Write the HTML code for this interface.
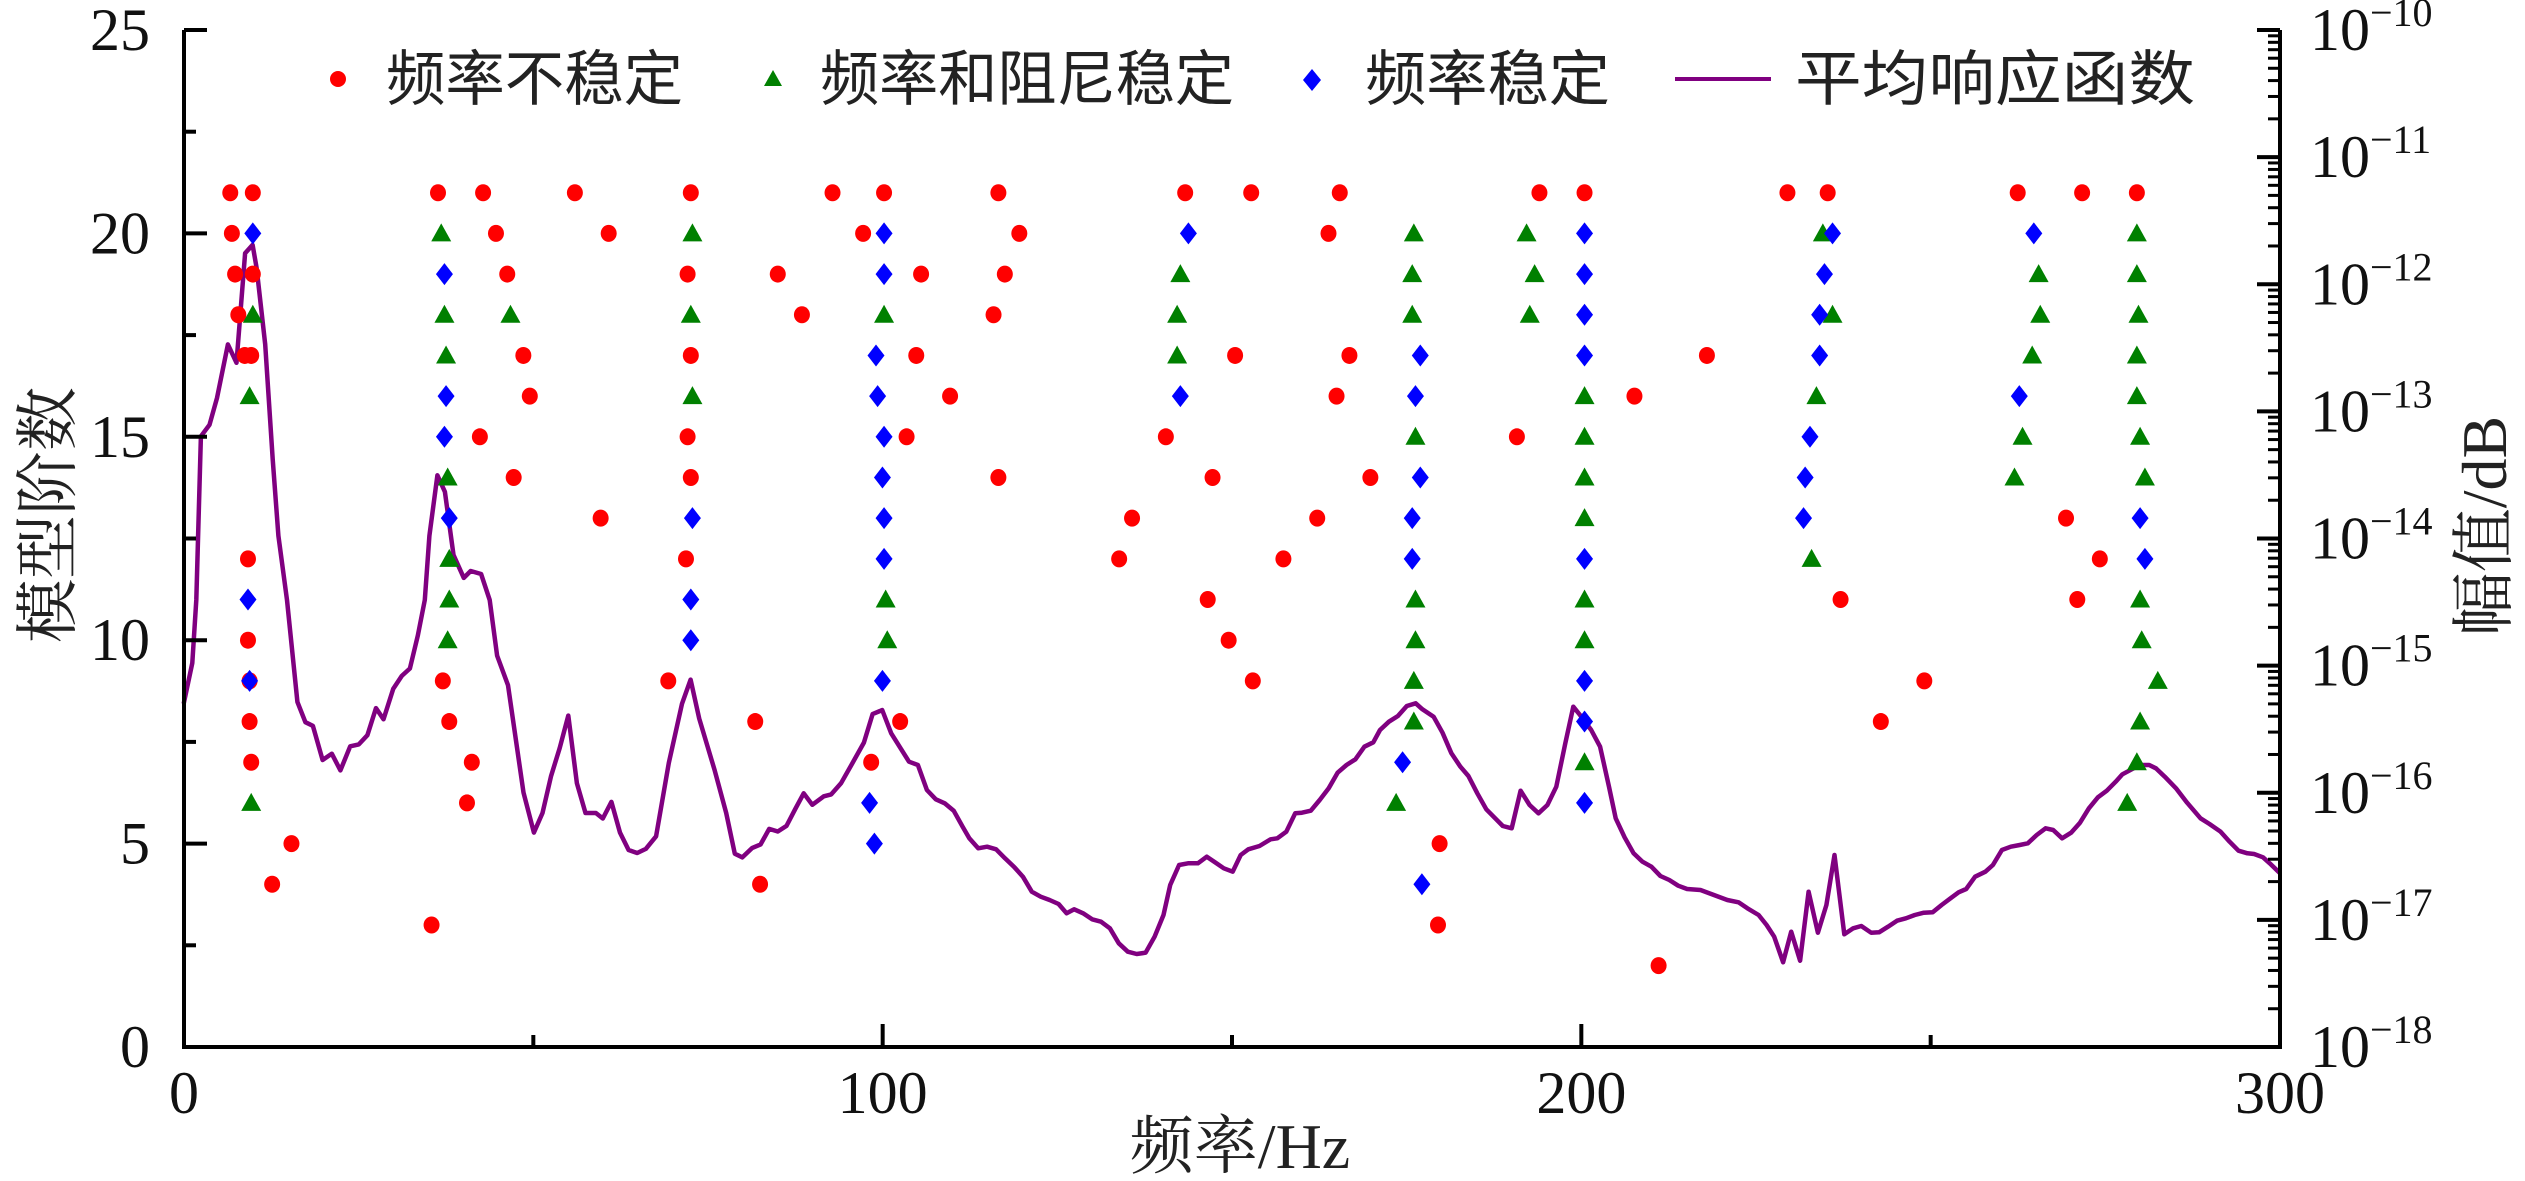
<!DOCTYPE html>
<html><head><meta charset="utf-8"><style>html,body{margin:0;padding:0;background:#fff}svg{display:block}</style></head>
<body>
<svg id="s" width="2525" height="1181" viewBox="0 0 2525 1181" xmlns="http://www.w3.org/2000/svg">
<rect width="2525" height="1181" fill="#fff"/>
<g id="curve"></g>
<g id="marks"></g>
<g id="axes" stroke="#000" stroke-width="4" fill="none"></g>
<g id="txt" font-family="Liberation Serif, serif" fill="#111"></g>
<g font-family="Liberation Sans, 'Noto Sans CJK SC', sans-serif" font-size="60" fill="#222">
<circle cx="338" cy="79" r="8" fill="#f00"/>
<text x="386" y="100" textLength="297" lengthAdjust="spacingAndGlyphs">频率不稳定</text>
<polygon points="773,70 764,86 782,86" fill="#008000"/>
<text x="820" y="100" textLength="414" lengthAdjust="spacingAndGlyphs">频率和阻尼稳定</text>
<polygon points="1312,69 1321,80 1312,91 1303,80" fill="#00f"/>
<text x="1365" y="100" textLength="245" lengthAdjust="spacingAndGlyphs">频率稳定</text>
<line x1="1675" y1="79" x2="1771" y2="79" stroke="#800080" stroke-width="4"/>
<text x="1795" y="100" textLength="400" lengthAdjust="spacingAndGlyphs">平均响应函数</text>
</g>
<g font-family="Liberation Serif, 'Noto Serif CJK SC', 'Noto Sans CJK SC', serif" font-size="64" fill="#222">
<text x="1240" y="1168" text-anchor="middle">频率/Hz</text>
<text transform="translate(70,515) rotate(-90)" text-anchor="middle">模型阶数</text>
<text transform="translate(2506,526) rotate(-90)" text-anchor="middle">幅值/dB</text>
</g>
</svg>
<script>
const NS="http://www.w3.org/2000/svg";
function el(p,t,a,txt){const e=document.createElementNS(NS,t);for(const k in a)e.setAttribute(k,a[k]);if(txt!==undefined)e.textContent=txt;p.appendChild(e);return e;}
const X0=184,X1=2280,Y0=1047,YT=30;
const px=h=>X0+(X1-X0)*h/300, py=o=>Y0-(Y0-YT)*o/25;
const ax=document.getElementById('axes');
el(ax,'path',{d:`M${X0},${YT} V${Y0} H${X1} V${YT}`});
for(let o=0;o<=25;o+=2.5){const maj=o%5===0;el(ax,'line',{x1:X0,y1:py(o),x2:X0+(maj?23:12),y2:py(o)});}
for(let h=50;h<300;h+=50){const maj=h%100===0;el(ax,'line',{x1:px(h),y1:Y0,x2:px(h),y2:Y0-(maj?23:12)});}
const dec=(Y0-YT)/8;
for(let d=0;d<=8;d++){const y=Y0-d*dec;el(ax,'line',{x1:X1,y1:y,x2:X1-23,y2:y});
 if(d<8)for(let m=2;m<=9;m++){const yy=y-Math.log10(m)*dec;el(ax,'line',{x1:X1,y1:yy,x2:X1-12,y2:yy,'stroke-width':3});}}
const tx=document.getElementById('txt');
for(let o=0;o<=25;o+=5)el(tx,'text',{x:150,y:py(o)+20,'text-anchor':'end','font-size':60},String(o));
for(let h=0;h<=300;h+=100)el(tx,'text',{x:px(h),y:1113,'text-anchor':'middle','font-size':60},String(h));
for(let d=0;d<=8;d++){const y=Y0-d*dec;const t=el(tx,'text',{x:2310,y:y+20,'font-size':60},'10');
 el(t,'tspan',{dy:-24,'font-size':40},'\u2212'+String(18-d));}
function cv(arr,ox,oy,sx,sy){const r=[];for(let i=0;i<arr.length;i+=2)r.push([ox+arr[i]/sx,oy+arr[i+1]/sy]);return r;}
let pts=[[183.7,703.7],[192.3,663],[196.3,600],[200.9,436.3],[209.5,424.8],[217,398],[227.9,344.4],[236.5,362.8],[245.1,253.3],[252.6,244.9],[256.6,267.9],[265.2,344.4],[272.7,459.2],[278.4,535.8],[287,600],[297.4,701.9],[305.4,722.2],[312.9,725.9],[322.6,760],[331.8,753.7],[340.4,770.4],[350.2,746.3],[358.8,744.4],[367.4,735.2],[376,708.1],[383.5,719.3],[393.2,688.9],[401.8,675.9],[409.9,668.5],[417.9,635.2],[424.8,600],[429.4,535.8],[437.4,475.3],[444.9,491.8],[453.5,554.9],[463.8,577.9],[470.7,571],[481.1,574],[489.7,600],[497.1,655.6],[508,685.2],[523.5,792.6],[533.9,832.6],[542.5,813],[551.1,775.9],[559.7,748.1],[568.3,715.6],[576.9,783.3],[585.5,813],[595.9,813],[602.8,818.5],[611.4,801.9],[620,832.6],[628.6,850],[637.2,853],[645.8,848.9],[656.1,836.3],[668.8,763],[682,703.7],[690.6,679.6],[699.2,718.5],[714.7,770.4],[726.2,813],[734.8,853.7],[742.3,857.4],[752,848.1],[760.6,844.4],[769.2,828.9],[777.8,831.5],[786.5,825.9],[795.1,809.3],[803.7,793.3],[812.3,804.8],[823.8,796.3],[831.2,794.4],[841,783.3],[852.5,763],[863.9,742.6],[872.6,714.1],[880,711]];
pts=pts.concat(cv([5,330,25,400,65,485,85,495,105,570,125,598,145,610,165,632,185,680,200,715,220,745,240,740,260,748,280,775,300,800,320,830,340,875,360,890,380,900,400,912,418,940,435,928,455,940,475,958,495,965,515,985,535,1030,555,1055,575,1062,595,1058,615,1010,635,945,650,855,670,795,690,790,712,790,732,770,752,788,770,805,790,815,808,765,825,748,850,738,875,718,890,715,910,695,930,640,945,638,965,632,985,600,1005,565,1025,518,1045,495,1065,478,1085,440,1105,427,1120,390,1140,365,1160,348,1180,318,1200,310,1215,328,1240,350,1260,398,1280,460,1300,500,1318,528,1338,580,1358,628,1378,655,1395,678,1415,685,1435,572,1455,615,1475,640,1495,615,1515,560,1535,430,1553,320],880,600,2.24,3));
pts=pts.concat(cv([0,345,25,390,45,440,65,560,80,655,100,712,120,760,140,785,160,800,180,828,200,840,220,857,240,867,270,870,300,885,330,900,355,907,375,925,400,945,418,975,435,1010,455,1087,473,995,493,1082,512,875,533,998,552,915,570,765,592,1003,612,985,630,978,652,998,670,997,690,980,710,962,730,955,750,945,770,938,790,937,810,915,830,895,848,877,865,867,885,830,908,815,925,795,945,750,965,740,985,735,1003,730,1023,705,1043,685,1060,690,1080,715,1100,698,1120,668,1140,625,1160,592,1180,572,1200,545,1215,523,1240,505,1260,495,1275,495,1290,505,1310,530,1335,565,1360,608,1390,655,1410,672,1435,695,1455,725,1475,752,1495,760,1510,762,1530,772,1545,790,1568,820],1580,600,2.24,3));
el(document.getElementById('curve'),'polyline',{points:pts.map(p=>p[0].toFixed(1)+','+p[1].toFixed(1)).join(' '),fill:'none',stroke:'#800080','stroke-width':4.5,'stroke-linejoin':'round'});
const S=1.6103, mk=document.getElementById('marks');
const R=[[143,21],[157,21],[144,20],[146,19],[157,19],[148,18],[152,17],[156,17],[154,12],[154,10],[155,9],[155,8],[156,7],[181,5],[169,4],
[272,21],[300,21],[308,20],[315,19],[325,17],[329,16],[298,15],[319,14],[373,13],[357,21],[378,20],[279,8],[293,7],[290,6],[268,3],[275,9],
[429,21],[427,19],[429,17],[427,15],[429,14],[426,12],[415,9],[483,19],[498,18],[469,8],[472,4],
[517,21],[536,20],[549,21],[572,19],[569,17],[590,16],[563,15],[559,8],[541,7],[620,21],[624,19],[633,20],[617,18],[620,14],
[703,13],[695,12],[736,21],[724,15],[750,11],[753,14],[763,10],[767,17],[778,9],[777,21],
[832,21],[825,20],[838,17],[830,16],[818,13],[797,12],[851,14],[894,5],[893,3],
[956,21],[942,15],[984,21],[1015,16],[1060,17],[1030,2],[1110,21],[1135,21],[1143,11],[1168,8],[1195,9],
[1253,21],[1293,21],[1283,13],[1290,11],[1304,12],[1327,21]];
const T=[[157,18],[155,16],[156,6],[274,20],[276,18],[277,17],[278,14],[279,12],[279,11],[278,10],[317,18],
[430,20],[429,18],[430,16],[549,18],[550,11],[551,10],[733,19],[731,18],[731,17],
[878,20],[877,19],[877,18],[879,15],[879,11],[879,10],[878,9],[878,8],[867,6],[948,20],[953,19],[950,18],
[984,16],[984,15],[984,14],[984,13],[984,11],[984,10],[984,7],[1132,20],[1138,18],[1128,16],[1125,12],
[1266,19],[1267,18],[1262,17],[1256,15],[1251,14],
[1327,20],[1327,19],[1328,18],[1327,17],[1327,16],[1329,15],[1332,14],[1329,11],[1330,10],[1340,9],[1329,8],[1327,7],[1321,6]];
const D=[[157,20],[154,11],[155,9],[276,19],[277,16],[276,15],[279,13],[430,13],[429,11],[429,10],
[549,20],[549,19],[544,17],[545,16],[549,15],[548,14],[549,13],[549,12],[548,9],[540,6],[543,5],
[738,20],[733,16],[882,17],[879,16],[882,14],[877,13],[877,12],[871,7],[883,4],
[984,20],[984,19],[984,18],[984,17],[984,12],[984,9],[984,8],[984,6],
[1138,20],[1133,19],[1130,18],[1130,17],[1124,15],[1121,14],[1120,13],[1263,20],[1254,16],[1329,13],[1332,12]];
R.forEach(([d,o])=>el(mk,'ellipse',{cx:d*S,cy:py(o),rx:8,ry:8.5,fill:'#f00'}));
T.forEach(([d,o])=>{const x=d*S,y=py(o);el(mk,'polygon',{points:`${x},${y-10} ${x-10},${y+8} ${x+10},${y+8}`,fill:'#008000'});});
D.forEach(([d,o])=>{const x=d*S,y=py(o);el(mk,'polygon',{points:`${x},${y-11} ${x+8.5},${y} ${x},${y+11} ${x-8.5},${y}`,fill:'#00f'});});
</script>
</body></html>
